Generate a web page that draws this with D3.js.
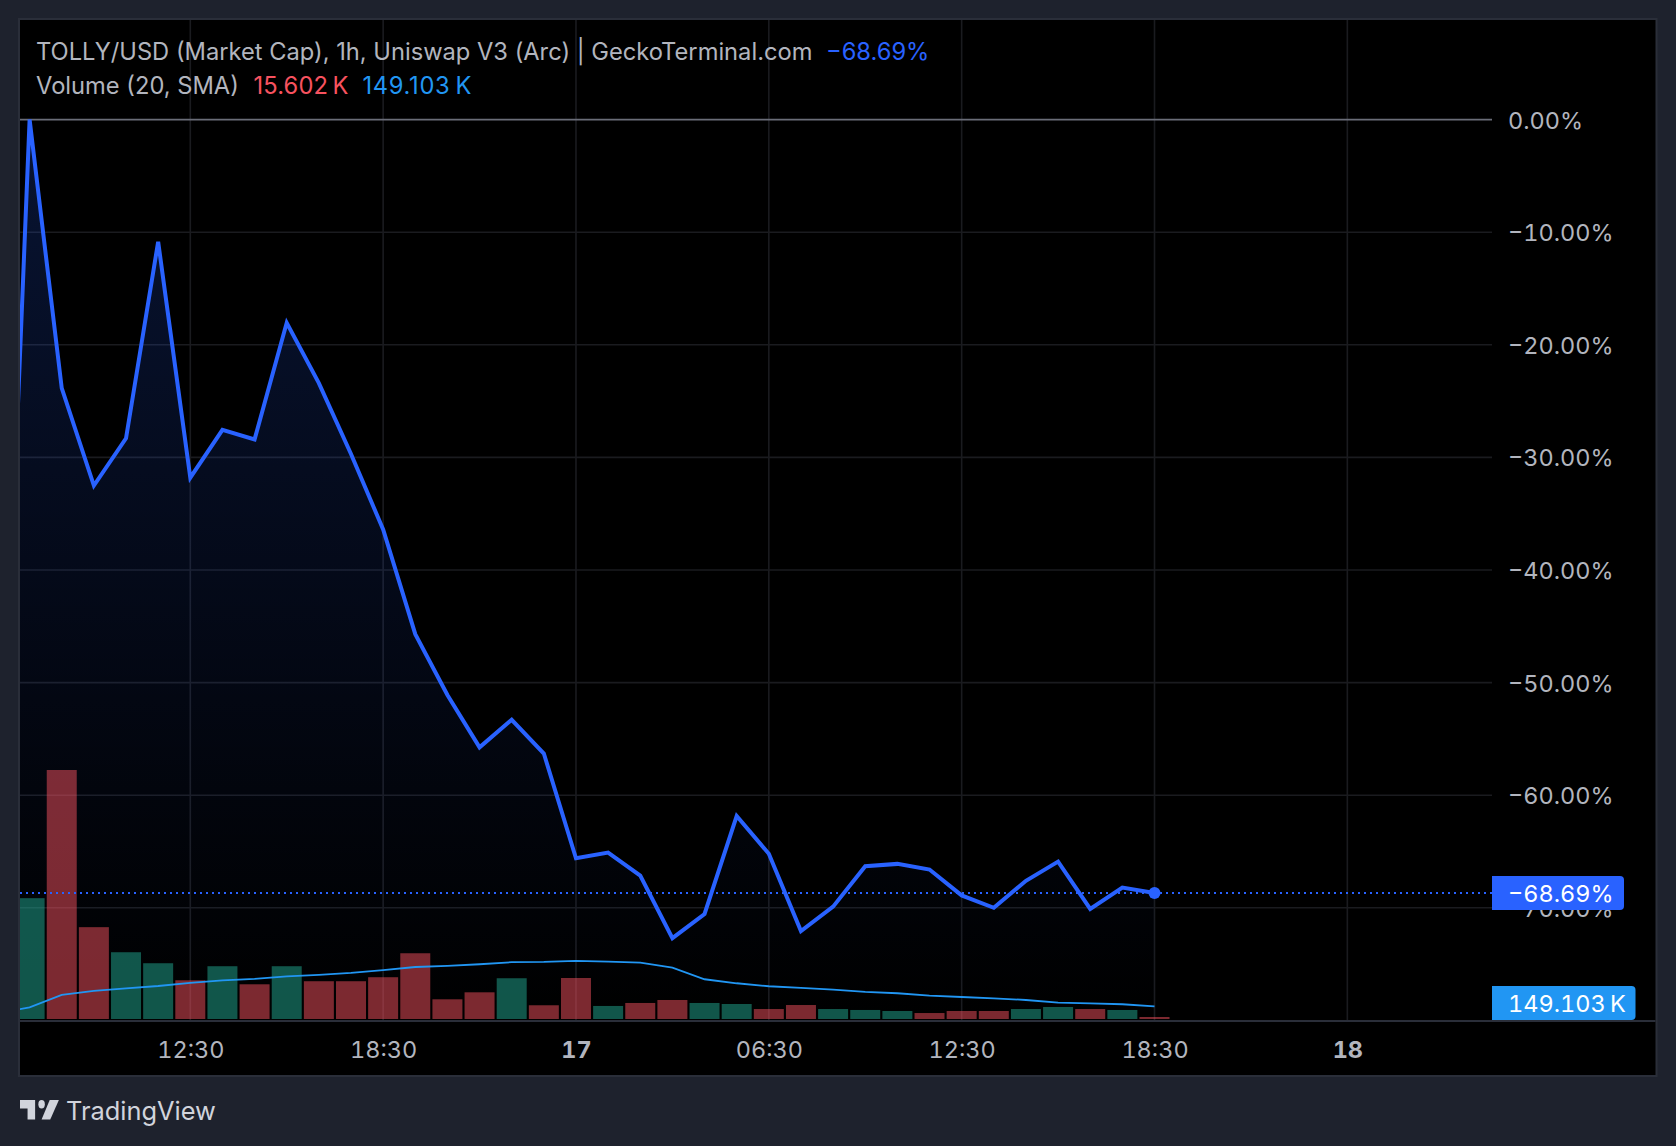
<!DOCTYPE html>
<html>
<head>
<meta charset="utf-8">
<script src="https://cdn.jsdelivr.net/npm/d3@7"></script>
<style>
  html, body { margin: 0; padding: 0; background: #1e222d; }
  svg { display: block; }
  text { font-family: Inter, "Noto Sans", sans-serif; }
  .axis-text { font-size: 23.5px; font-variant-numeric: tabular-nums; font-feature-settings: "tnum" 1; }
</style>
</head>
<body>
<svg id="chart" width="1676" height="1146"></svg>
<script>
/*
----------- DATOS ----------------
*/
// hour index 0 is the 07:30 bar of the 16th, -1 is the candle cut off by the left edge
const hours = [-1, 0, 1, 2, 3, 4, 5, 6, 7, 8, 9, 10, 11, 12, 13, 14, 15, 16, 17, 18, 19, 20, 21, 22, 23, 24, 25, 26, 27, 28, 29, 30, 31, 32, 33, 34, 35];
const change = [-70, 0, -23.85, -32.5, -28.3, -10.85, -31.8, -27.55, -28.4, -18.05, -23.4, -29.7, -36.4, -45.7, -51.1, -55.75, -53.3, -56.3, -65.6, -65.1, -67.15, -72.7, -70.55, -61.85, -65.2, -72.07, -69.9, -66.3, -66.1, -66.6, -68.9, -70, -67.6, -65.9, -70.1, -68.2, -68.69];
const volumeSma = [68, 137, 282, 329, 360, 387, 423, 454, 470, 501, 517, 540, 572, 610, 622, 642, 666, 669, 681, 673, 661, 602, 466, 419, 384, 364, 344, 317, 302, 274, 258, 243, 223, 191, 184, 173, 149.103];
const volume = [1417, 2920, 1077, 783, 654, 454, 619, 407, 619, 443, 443, 490, 771, 231, 313, 478, 161, 481, 153, 188, 223, 188, 176, 117, 164, 117, 106, 94, 70, 94, 94, 117, 141, 117, 106, 15.602];
const volumeUp = [1, 0, 0, 1, 1, 0, 1, 0, 1, 0, 0, 0, 0, 0, 0, 1, 0, 0, 1, 0, 0, 1, 1, 0, 0, 1, 1, 1, 0, 0, 0, 1, 1, 0, 1, 0];

const percentTicks = [0, -10, -20, -30, -40, -50, -60, -70];
const timeTicks = [5, 11, 17, 23, 29, 35, 41];
const timeLabels = ["12:30", "18:30", "17", "06:30", "12:30", "18:30", "18"];
const boldTimeLabels = ["17", "18"];

const lastChange = -68.69;
const titleText = "TOLLY/USD (Market Cap), 1h, Uniswap V3 (Arc) | GeckoTerminal.com";

/*
----------- COLORES ----------------
*/
const lineBlue = "#2962ff";
const smaBlue = "#2196f3";
const upGreen = "#22ab94";
const downRed = "#f7525f";
const textGrey = "#b2b5be";
const gridGrey = "#1a1b1f";
const borderGrey = "#2a2e39";

/*
----------- ESCALAS ----------------
*/
const pane = { left: 20, top: 20, right: 1655.5, bottom: 1075, axisY: 1021, scaleX: 1492 };

const x = d3.scaleLinear().domain([0, 35]).range([29.6, 1154.5]);
const y = d3.scaleLinear().domain([0, -70]).range([119.6, 907.8]);
const yVol = d3.scaleLinear().domain([0, 2920]).range([1019, 770]);

const svg = d3.select("#chart");
const fmtPct = d => (d < 0 ? "\u2212" : "") + Math.abs(d).toFixed(2) + "%";

const defs = svg.append("defs");
defs.append("clipPath").attr("id", "paneClip")
  .append("rect")
  .attr("x", pane.left).attr("y", pane.top)
  .attr("width", pane.scaleX - pane.left).attr("height", pane.axisY - pane.top);

const grad = defs.append("linearGradient").attr("id", "areaGrad")
  .attr("gradientUnits", "userSpaceOnUse")
  .attr("x1", 0).attr("x2", 0).attr("y1", y(0)).attr("y2", pane.axisY);
grad.append("stop").attr("offset", 0).attr("stop-color", lineBlue).attr("stop-opacity", 0.2);
grad.append("stop").attr("offset", 1).attr("stop-color", lineBlue).attr("stop-opacity", 0);

/*
----------- FONDO ----------------
*/
svg.append("rect").attr("width", 1676).attr("height", 1146).attr("fill", "#1e222d");
svg.append("rect")
  .attr("x", pane.left - 1).attr("y", pane.top - 1)
  .attr("width", pane.right - pane.left + 2).attr("height", pane.bottom - pane.top + 2)
  .attr("fill", "#000").attr("stroke", borderGrey).attr("stroke-width", 2);

/*
----------- GRILLA ----------------
*/
const grid = svg.append("g");
grid.selectAll(".gridH").data(percentTicks.slice(1)).join("line")
  .attr("x1", pane.left).attr("x2", pane.scaleX)
  .attr("y1", d => y(d)).attr("y2", d => y(d))
  .attr("stroke", gridGrey).attr("stroke-width", 1.6);
grid.selectAll(".gridV").data(timeTicks).join("line")
  .attr("x1", d => x(d)).attr("x2", d => x(d))
  .attr("y1", pane.top).attr("y2", pane.axisY)
  .attr("stroke", gridGrey).attr("stroke-width", 1.6);

/*
----------- SERIES ----------------
*/
const plot = svg.append("g").attr("clip-path", "url(#paneClip)");

const pts = hours.map((h, i) => ({ h: h, v: change[i], s: volumeSma[i] }));

plot.append("path").datum(pts)
  .attr("fill", "url(#areaGrad)")
  .attr("d", d3.area().x(d => x(d.h)).y0(pane.axisY).y1(d => y(d.v)));

plot.append("line")
  .attr("x1", pane.left).attr("x2", pane.scaleX)
  .attr("y1", y(0)).attr("y2", y(0))
  .attr("stroke", "#6a6d78").attr("stroke-width", 1.6);

// the smallest bar still shows as a 2px sliver in the reference
const barHeight = d => Math.max(2, yVol(0) - yVol(d));

plot.selectAll(".vol").data(volume).join("rect")
  .attr("x", (d, i) => x(i) - 15)
  .attr("width", 30)
  .attr("y", d => yVol(0) - barHeight(d))
  .attr("height", barHeight)
  .attr("fill", (d, i) => volumeUp[i] ? upGreen : downRed)
  .attr("fill-opacity", 0.5);

plot.append("path").datum(pts)
  .attr("fill", "none").attr("stroke", smaBlue).attr("stroke-width", 1.8)
  .attr("d", d3.line().x(d => x(d.h)).y(d => yVol(d.s)));

plot.append("line")
  .attr("x1", pane.left).attr("x2", pane.scaleX)
  .attr("y1", y(lastChange)).attr("y2", y(lastChange))
  .attr("stroke", lineBlue).attr("stroke-width", 2).attr("stroke-dasharray", "2 4");

plot.append("path").datum(pts)
  .attr("fill", "none").attr("stroke", lineBlue).attr("stroke-width", 4)
  .attr("stroke-linejoin", "miter")
  .attr("d", d3.line().x(d => x(d.h)).y(d => y(d.v)));

plot.append("circle")
  .attr("cx", x(35)).attr("cy", y(lastChange)).attr("r", 6)
  .attr("fill", lineBlue);

/*
----------- EJES ----------------
*/
const xAxis = d3.axisBottom(x)
  .tickValues(timeTicks)
  .tickSize(0)
  .tickPadding(0)
  .tickFormat((d, i) => timeLabels[i]);

const gx = svg.append("g").attr("transform", "translate(0," + pane.axisY + ")").call(xAxis);
gx.select(".domain").remove();
gx.selectAll("text")
  .attr("class", "axis-text")
  .attr("y", 37).attr("dy", null)
  .attr("fill", textGrey)
  .style("font-family", "Inter")
  .style("font-weight", d => boldTimeLabels.includes(timeLabels[timeTicks.indexOf(d)]) ? 700 : 400);

svg.append("line")
  .attr("x1", pane.left).attr("x2", pane.right)
  .attr("y1", pane.axisY).attr("y2", pane.axisY)
  .attr("stroke", borderGrey).attr("stroke-width", 2);

const yAxis = d3.axisRight(y)
  .tickValues(percentTicks)
  .tickSize(0)
  .tickPadding(0)
  .tickFormat(fmtPct);

const gy = svg.append("g").attr("transform", "translate(1508,1)").call(yAxis);
gy.select(".domain").remove();
gy.selectAll("text")
  .attr("class", "axis-text")
  .style("font-family", "Inter")
  .attr("fill", textGrey);

/*
----------- ETIQUETAS ULTIMO VALOR ----------------
*/
function labelUltimo(xEnd, yTop, yBottom, color, texto) {
  svg.append("path")
    .attr("d", "M" + pane.scaleX + "," + yTop + "H" + (xEnd - 4) + "Q" + xEnd + "," + yTop + " " + xEnd + "," + (yTop + 4)
      + "V" + (yBottom - 4) + "Q" + xEnd + "," + yBottom + " " + (xEnd - 4) + "," + yBottom + "H" + pane.scaleX + "Z")
    .attr("fill", color);
  svg.append("text")
    .attr("class", "axis-text")
    .attr("x", 1508).attr("y", (yTop + yBottom) / 2 + 8.5)
    .attr("fill", "#fff")
    .text(texto);
}
labelUltimo(1624, y(lastChange) - 17, y(lastChange) + 17, lineBlue, fmtPct(lastChange));
labelUltimo(1635.5, 986, 1020, smaBlue, "149.103\u2009K");

/*
----------- ENCABEZADO ----------------
*/
function textoLeyenda(xPos, yPos, color, texto) {
  return svg.append("text")
    .attr("x", xPos).attr("y", yPos)
    .attr("fill", color)
    .style("font-size", "23.7px")
    .text(texto);
}
textoLeyenda(36, 60, textGrey, titleText);
textoLeyenda(826, 60, lineBlue, fmtPct(lastChange));
textoLeyenda(36, 94, textGrey, "Volume (20, SMA)");
textoLeyenda(253.5, 94, downRed, "15.602\u2009K").style("letter-spacing", "0.15px");
textoLeyenda(362.5, 94, smaBlue, "149.103\u2009K").style("letter-spacing", "0.7px");

/*
----------- LOGO ----------------
*/
const logo = svg.append("g")
  .attr("fill", "#d1d4dc")
  .attr("transform", "translate(20,1091.6) scale(1.08,1.4)");
logo.append("path").attr("d", "M14 6H0v6h7v8h7V6Z");
logo.append("path").attr("d", "M28 20h-8l7.5-14H36L28 20Z");
logo.append("circle").attr("cx", 20).attr("cy", 9).attr("r", 3);

svg.append("text")
  .attr("x", 66).attr("y", 1120)
  .attr("fill", "#d1d4dc")
  .style("font-size", "25.4px")
  .text("TradingView");
</script>
</body>
</html>
